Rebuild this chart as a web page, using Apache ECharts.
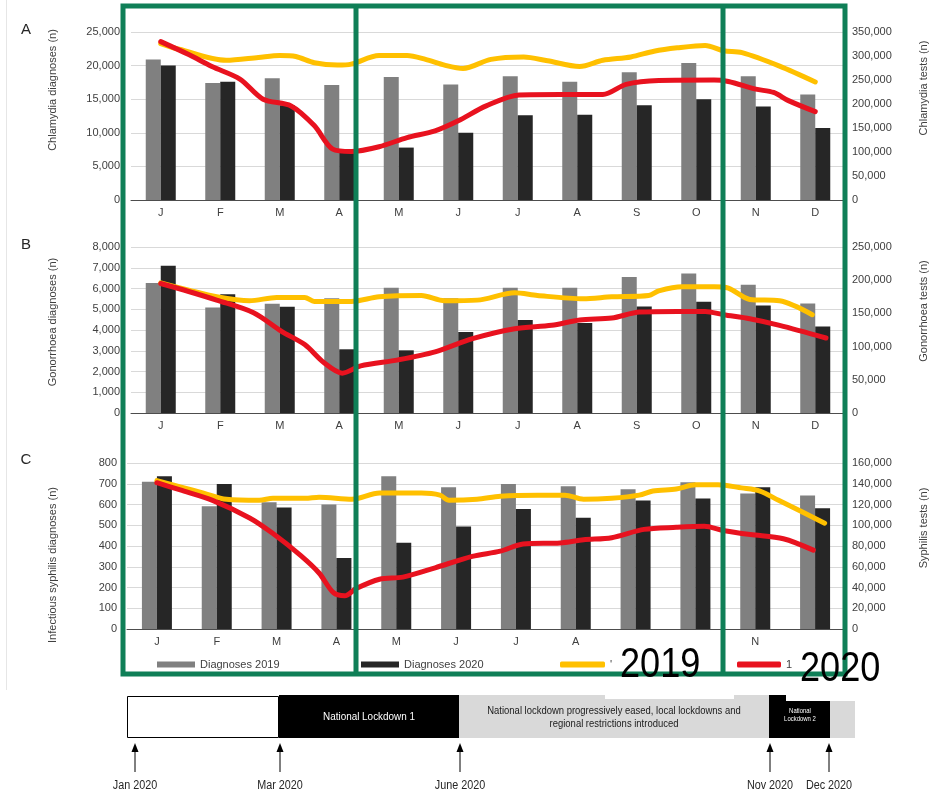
<!DOCTYPE html>
<html><head><meta charset="utf-8">
<script src="https://cdn.jsdelivr.net/npm/echarts/dist/echarts.min.js"></script>
<style>html,body{margin:0;padding:0;background:#fff}#c{width:937px;height:793px}</style>
</head><body><div id="c"></div>
<script>
// ---------------- DATA ----------------
const months = ['J','F','M','A','M','J','J','A','S','O','N','D'];
const monthsC = ['J','F','M','A','M','J','J','A','','','N',''];

// Panel A – Chlamydia
const chlamydiaDiag2019 = [20900,17400,18100,17100,18300,17200,18400,17600,19000,20400,18400,15700];
const chlamydiaDiag2020 = [20000,17600,14100,7000,7800,10000,12600,12700,14100,15000,13900,10700];
const chlamydiaTestsX2019 = [0,0.31,1.1,1.64,2.0,2.27,2.58,2.97,3.2,3.67,4.14,4.45,4.77,5.08,5.55,6.1,6.5,7.04,7.43,7.9,8.29,8.68,9.15,9.46,9.77,10.4,11.0];
const chlamydiaTests2019 = [326000,314000,291000,297000,301000,299000,286000,281000,283000,301000,301000,293000,281000,274000,293000,298000,290000,278000,291000,298000,310000,317000,322000,311000,307000,279000,246000];
const chlamydiaTestsX2020 = [0,0.47,0.86,1.33,1.72,2.19,2.58,2.89,3.2,3.67,4.14,4.61,5.0,5.47,6.02,6.72,7.43,7.82,8.37,9.3,9.54,10.0,10.3,10.55,11.0];
const chlamydiaTests2020 = [330000,303000,278000,252000,210000,196000,155000,106000,101000,111000,130000,144000,165000,196000,219000,220000,220000,241000,249000,250000,247000,231000,224000,207000,184000];

// Panel B – Gonorrhoea
const gonoDiag2019 = [6260,5090,5260,5530,6040,5530,6040,6040,6550,6720,6180,5280];
const gonoDiag2020 = [7100,5720,5120,3070,3020,3900,4480,4340,5130,5360,5180,4170];
const gonoTestsX2019 = [0,0.47,0.94,1.49,1.95,2.42,2.58,3.2,3.67,4.38,4.77,5.32,5.95,6.33,7.1,7.58,8.2,8.37,8.76,9.3,9.54,9.9,10.4,10.95];
const gonoTests2019 = [196000,185000,175000,169000,174000,174000,168000,168000,175000,177000,169000,170000,181000,177000,172000,175000,177000,184000,190000,190000,188000,171000,169000,148000];
const gonoTestsX2020 = [0,0.47,0.94,1.56,2.03,2.42,2.74,3.05,3.36,3.99,4.61,5.24,5.95,6.57,7.04,7.58,8.05,8.68,9.15,9.46,9.9,10.4,11.18];
const gonoTests2020 = [195000,183000,170000,151000,123000,103000,76000,60000,71000,80000,92000,112000,127000,132000,140000,143000,152000,153000,153000,148000,142000,132000,113000];

// Panel C – Infectious syphilis
const syphDiag2019 = [710,592,611,600,736,683,699,688,674,707,653,643];
const syphDiag2020 = [736,699,586,342,416,494,578,536,619,629,683,582];
const syphTestsX2019 = [0,0.39,0.78,1.16,1.71,1.94,2.48,2.71,3.26,3.72,4.42,4.73,4.88,5.35,5.74,6.36,6.82,7.13,7.6,8.06,8.29,8.68,9.0,9.38,9.77,10.08,10.39,10.78,11.16];
const syphTests2019 = [143000,137000,131000,125000,124000,126000,126000,127000,125000,131000,131000,129000,124000,125000,128000,129000,129000,125000,126000,129000,133000,135000,139000,139000,136000,133000,124000,113000,102000];
const syphTestsX2020 = [0,0.39,0.93,1.55,1.94,2.4,2.71,2.95,3.14,3.33,3.72,4.11,4.65,5.27,5.74,6.12,6.74,7.13,7.6,8.14,8.68,9.15,9.46,9.92,10.47,10.97];
const syphTests2020 = [141000,134000,124000,107000,92000,71000,54000,35000,32000,39000,48000,50000,59000,70000,75000,82000,83000,86000,88000,96000,98000,99000,95000,91000,87000,76000];

// Timeline
const timelineLabels = ['Jan 2020','Mar 2020','June 2020','Nov 2020','Dec 2020'];

// ---------------- CHART ----------------
const FONT = '"Liberation Sans", Arial, sans-serif';
const fmt = v => v.toLocaleString('en-US');
const zip = (xs, ys) => xs.map((x, i) => [x, ys[i]]);

const panels = [
  {left:131, top:32, width:719, height:168, cats:months, d19:chlamydiaDiag2019, d20:chlamydiaDiag2020,
   lmax:25000, lint:5000, rmax:350000, rint:50000,
   lname:'Chlamydia diagnoses (n)', rname:'Chlamydia tests (n)',
   t19:zip(chlamydiaTestsX2019, chlamydiaTests2019), t20:zip(chlamydiaTestsX2020, chlamydiaTests2020),
   lpad:[0,0,0,52], rpad:[0,0,0,56], lgap:73, lmargin:11},
  {left:131, top:247, width:719, height:166, cats:months, d19:gonoDiag2019, d20:gonoDiag2020,
   lmax:8000, lint:1000, rmax:250000, rint:50000,
   lname:'Gonorrhoea diagnoses (n)', rname:'Gonorrhoea tests (n)',
   t19:zip(gonoTestsX2019, gonoTests2019), t20:zip(gonoTestsX2020, gonoTests2020),
   lpad:[0,0,0,16], rpad:[0,0,0,38], lgap:73, lmargin:11},
  {left:127, top:463, width:723, height:166, cats:monthsC, d19:syphDiag2019, d20:syphDiag2020,
   lmax:800, lint:100, rmax:160000, rint:20000,
   lname:'Infectious syphilis diagnoses (n)', rname:'Syphilis tests (n)',
   t19:zip(syphTestsX2019, syphTests2019), t20:zip(syphTestsX2020, syphTests2020),
   lpad:[0,38,0,0], rpad:[0,0,0,36], lgap:69, lmargin:10}
];

const grid = [], xAxis = [], yAxis = [], series = [];
panels.forEach((p, i) => {
  grid.push({left:p.left, top:p.top, width:p.width, height:p.height});
  xAxis.push({type:'category', gridIndex:i, data:p.cats, axisTick:{show:false},
    axisLine:{lineStyle:{color:'#4d4d4d', width:1}},
    axisLabel:{color:'#404040', fontSize:11, fontFamily:FONT, margin:7, interval:0}});
  xAxis.push({type:'value', gridIndex:i, min:-0.5, max:11.5, show:false});
  yAxis.push({type:'value', gridIndex:i, position:'left', min:0, max:p.lmax, interval:p.lint,
    axisLine:{show:false}, axisTick:{show:false},
    splitLine:{lineStyle:{color:'#d9d9d9', width:1}},
    axisLabel:{formatter:fmt, color:'#404040', fontSize:11, fontFamily:FONT, margin:p.lmargin},
    name:p.lname, nameLocation:'middle', nameRotate:90, nameGap:p.lgap,
    nameTextStyle:{color:'#404040', fontSize:11, fontFamily:FONT, padding:p.lpad}});
  yAxis.push({type:'value', gridIndex:i, position:'right', min:0, max:p.rmax, interval:p.rint,
    axisLine:{show:false}, axisTick:{show:false}, splitLine:{show:false},
    axisLabel:{formatter:fmt, color:'#404040', fontSize:11, fontFamily:FONT, margin:7},
    name:p.rname, nameLocation:'middle', nameRotate:90, nameGap:73,
    nameTextStyle:{color:'#404040', fontSize:11, fontFamily:FONT, padding:p.rpad}});
  series.push({name:'Diagnoses 2019', type:'bar', xAxisIndex:2*i, yAxisIndex:2*i, data:p.d19,
    barWidth:15, barGap:'0%', itemStyle:{color:'#808080'}, z:2});
  series.push({name:'Diagnoses 2020', type:'bar', xAxisIndex:2*i, yAxisIndex:2*i, data:p.d20,
    barWidth:15, barGap:'0%', itemStyle:{color:'#262626'}, z:2});
  series.push({name:'Tests 2019', type:'line', xAxisIndex:2*i+1, yAxisIndex:2*i+1, data:p.t19,
    showSymbol:false, smooth:0.3, itemStyle:{color:'#FFC000'},
    lineStyle:{color:'#FFC000', width:5, cap:'round', join:'round'}, z:5});
  series.push({name:'Tests 2020', type:'line', xAxisIndex:2*i+1, yAxisIndex:2*i+1, data:p.t20,
    showSymbol:false, smooth:0.3, itemStyle:{color:'#E8121F'},
    lineStyle:{color:'#E8121F', width:5, cap:'round', join:'round'}, z:6});
});

const legBase = {top:654, itemWidth:38, itemHeight:6, itemGap:0, selectedMode:false,
  textStyle:{fontSize:11, color:'#404040', fontFamily:FONT}};
const legend = [
  Object.assign({}, legBase, {left:152, data:[{name:'Diagnoses 2019', icon:'rect'}]}),
  Object.assign({}, legBase, {left:356, data:[{name:'Diagnoses 2020', icon:'rect'}]}),
  Object.assign({}, legBase, {left:555, itemWidth:45, data:[{name:'Tests 2019', icon:'roundRect'}], formatter:() => "'"}),
  Object.assign({}, legBase, {left:732, itemWidth:44, data:[{name:'Tests 2020', icon:'roundRect'}], formatter:() => '1'})
];

// graphic decorations
const GREEN = '#0f7f57';
const g = [];
g.push({type:'line', shape:{x1:6.5, y1:0, x2:6.5, y2:690}, style:{stroke:'#e6e6e6', lineWidth:1}, silent:true});
[['A',30],['B',245],['C',460]].forEach(([t, y]) => g.push({type:'text', x:26, y:y,
  style:{text:t, fontSize:15, fill:'#262626', fontFamily:FONT, align:'center', verticalAlign:'middle'}}));
// green rectangles
g.push({type:'rect', shape:{x:123, y:6, width:722, height:668}, style:{fill:'none', stroke:GREEN, lineWidth:5}, z:100});
g.push({type:'line', shape:{x1:356, y1:6, x2:356, y2:674}, style:{stroke:GREEN, lineWidth:5}, z:100});
g.push({type:'line', shape:{x1:723, y1:6, x2:723, y2:674}, style:{stroke:GREEN, lineWidth:5}, z:100});
// big annotations
g.push({type:'text', x:620, y:665, scaleX:0.86, style:{text:'2019', fontSize:42, fill:'#000', fontFamily:FONT, verticalAlign:'middle'}, z:101});
g.push({type:'text', x:800, y:669, scaleX:0.86, style:{text:'2020', fontSize:42, fill:'#000', fontFamily:FONT, verticalAlign:'middle'}, z:101});
// timeline
g.push({type:'rect', shape:{x:127.5, y:696.5, width:151, height:41}, style:{fill:'#fff', stroke:'#000', lineWidth:1}});
g.push({type:'rect', shape:{x:279, y:695, width:180, height:43}, style:{fill:'#000'}});
g.push({type:'rect', shape:{x:459, y:695, width:310, height:43}, style:{fill:'#d9d9d9'}});
g.push({type:'rect', shape:{x:605, y:693, width:129, height:6}, style:{fill:'#fff'}});
g.push({type:'rect', shape:{x:769, y:695, width:61, height:43}, style:{fill:'#000'}});
g.push({type:'rect', shape:{x:786, y:693, width:50, height:8}, style:{fill:'#fff'}});
g.push({type:'rect', shape:{x:830, y:701, width:25, height:37}, style:{fill:'#d9d9d9'}});
g.push({type:'text', x:369, y:717, scaleX:0.9, style:{text:'National Lockdown 1', fontSize:11, fill:'#fff', fontFamily:FONT, align:'center', verticalAlign:'middle'}});
g.push({type:'text', x:614, y:717, scaleX:0.86, style:{text:'National lockdown progressively eased, local lockdowns and\nregional restrictions introduced',
  fontSize:11, lineHeight:13, fill:'#1a1a1a', fontFamily:FONT, align:'center', verticalAlign:'middle'}});
g.push({type:'text', x:800, y:715, scaleX:0.85, style:{text:'National\nLockdown 2', fontSize:7, lineHeight:8, fill:'#fff', fontFamily:FONT, align:'center', verticalAlign:'middle'}});
const arrowX = [135, 280, 460, 770, 829];
arrowX.forEach((x, i) => {
  g.push({type:'line', shape:{x1:x, y1:772, x2:x, y2:748}, style:{stroke:'#000', lineWidth:1}});
  g.push({type:'polygon', shape:{points:[[x, 743], [x-3.5, 752], [x+3.5, 752]]}, style:{fill:'#000'}});
  g.push({type:'text', x:x, y:786, scaleX:0.9, style:{text:timelineLabels[i], fontSize:12, fill:'#262626', fontFamily:FONT, align:'center', verticalAlign:'middle'}});
});

const chart = echarts.init(document.getElementById('c'));
chart.setOption({
  backgroundColor:'#fff', animation:false,
  grid, xAxis, yAxis, series, legend, graphic:g
});
</script>
</body></html>
